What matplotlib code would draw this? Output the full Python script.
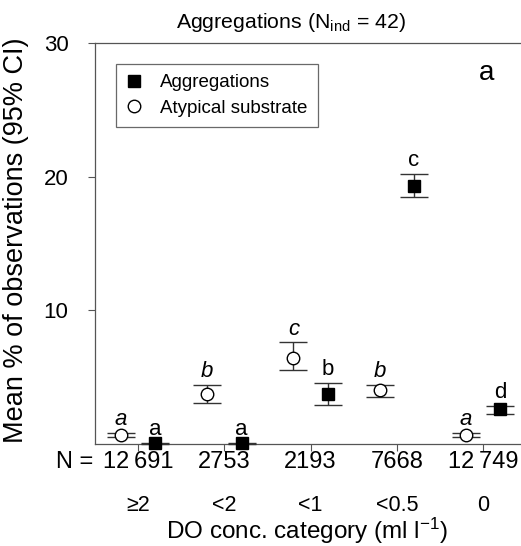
import matplotlib
matplotlib.use("Agg")
import matplotlib.pyplot as plt
from matplotlib.transforms import blended_transform_factory
from matplotlib.lines import Line2D
import numpy as np

plt.rcParams['font.family'] = ['Liberation Sans', 'DejaVu Sans']
plt.rcParams['mathtext.fontset'] = 'custom'
plt.rcParams['mathtext.rm'] = 'Liberation Sans'
plt.rcParams['mathtext.it'] = 'Liberation Sans:italic'

categories = ["\u22652", "<2", "<1", "<0.5", "0"]
n_labels = ["12\u2009691", "2753", "2193", "7668", "12\u2009749"]

agg_mean = [0.05, 0.05, 3.75, 19.3, 2.6]
agg_low = [0.0, 0.0, 2.9, 18.5, 2.25]
agg_high = [0.1, 0.1, 4.6, 20.2, 2.85]
agg_letters = ["a", "a", "b", "c", "d"]

atyp_mean = [0.7, 3.75, 6.45, 4.05, 0.7]
atyp_low = [0.55, 3.1, 5.5, 3.55, 0.55]
atyp_high = [0.85, 4.4, 7.6, 4.45, 0.85]
atyp_letters = ["a", "b", "c", "b", "a"]

W, H = 521, 546
fig = plt.figure(figsize=(W / 100, H / 100), dpi=100)
ax = fig.add_axes([95 / W, 1 - 444 / H, (521 - 95) / W, (444 - 43) / H])

x = np.arange(len(categories))
off = 0.2
gray = "#333333"

agg_mean = np.array(agg_mean); atyp_mean = np.array(atyp_mean)
agg_err = [agg_mean - np.array(agg_low), np.array(agg_high) - agg_mean]
atyp_err = [atyp_mean - np.array(atyp_low), np.array(atyp_high) - atyp_mean]

ax.errorbar(x - off, atyp_mean, yerr=atyp_err, fmt="o", mfc="white", mec="black",
            mew=1.0, ms=9, ecolor=gray, elinewidth=1.0, capsize=10, capthick=1.0,
            zorder=3, clip_on=False)
ax.errorbar(x + off, agg_mean, yerr=agg_err, fmt="s", mfc="black", mec="black",
            ms=9, ecolor=gray, elinewidth=1.0, capsize=10, capthick=1.0,
            zorder=3, clip_on=False)

for xi, hi, lt in zip(x - off, atyp_high, atyp_letters):
    ax.annotate(lt, (xi, hi), xytext=(0, 2), textcoords="offset points",
                ha="center", va="bottom", fontsize=16, style="italic")
for xi, hi, lt in zip(x + off, agg_high, agg_letters):
    ax.annotate(lt, (xi, hi), xytext=(0, 2), textcoords="offset points",
                ha="center", va="bottom", fontsize=16)

ax.set_xlim(-0.5, 4.44)
ax.set_ylim(0, 30)
ax.set_yticks([10, 20, 30])
ax.set_xticks(x)
ax.set_xticklabels([])
ax.tick_params(axis="both", direction="out", length=5, width=0.8, colors="#555555",
               labelsize=16, labelcolor="black")
ax.tick_params(axis="y", pad=14)
for s in ["left", "top", "bottom"]:
    ax.spines[s].set_color("#555555")
    ax.spines[s].set_linewidth(0.9)
ax.spines["right"].set_visible(False)

trans = blended_transform_factory(ax.transData, fig.transFigure)
for xi, nl, cl in zip(x, n_labels, categories):
    ax.text(xi, 1 - 468 / H, nl, transform=trans, ha="center", va="baseline", fontsize=17)
    ax.text(xi, 1 - 511 / H, cl, transform=trans, ha="center", va="baseline", fontsize=15.5)
fig.text(75 / W, 1 - 468 / H, "N =", ha="center", va="baseline", fontsize=17)

fig.text(307 / W, 1 - 539 / H, "DO conc. category (ml l$^{-1}$)", ha="center", va="baseline", fontsize=17.5)
fig.text(16 / W, 1 - 240 / H, "Mean % of observations (95% CI)", ha="center", va="center",
         rotation=90, fontsize=19.5)
fig.text(291 / W, 1 - 22 / H, "Aggregations (N$_\\mathregular{ind}$ = 42)", ha="center",
         va="center", fontsize=15.3)
fig.text(487 / W, 1 - 73 / H, "a", ha="center", va="center", fontsize=20)

proxies = [Line2D([], [], ls="none", marker="s", ms=9, mfc="black", mec="black"),
           Line2D([], [], ls="none", marker="o", ms=9, mfc="white", mec="black")]
leg = ax.legend(proxies, ["Aggregations", "Atypical substrate"], loc="upper left",
                bbox_to_anchor=((116 - 95) / 426, 1 - (64 - 43) / 401), borderaxespad=0,
                frameon=True, fancybox=False, edgecolor="#444444", fontsize=13.5,
                handlelength=0.8, handletextpad=1.0, borderpad=0.55, labelspacing=0.45)
leg.get_frame().set_linewidth(0.9)

fig.savefig("out.png", dpi=100)
